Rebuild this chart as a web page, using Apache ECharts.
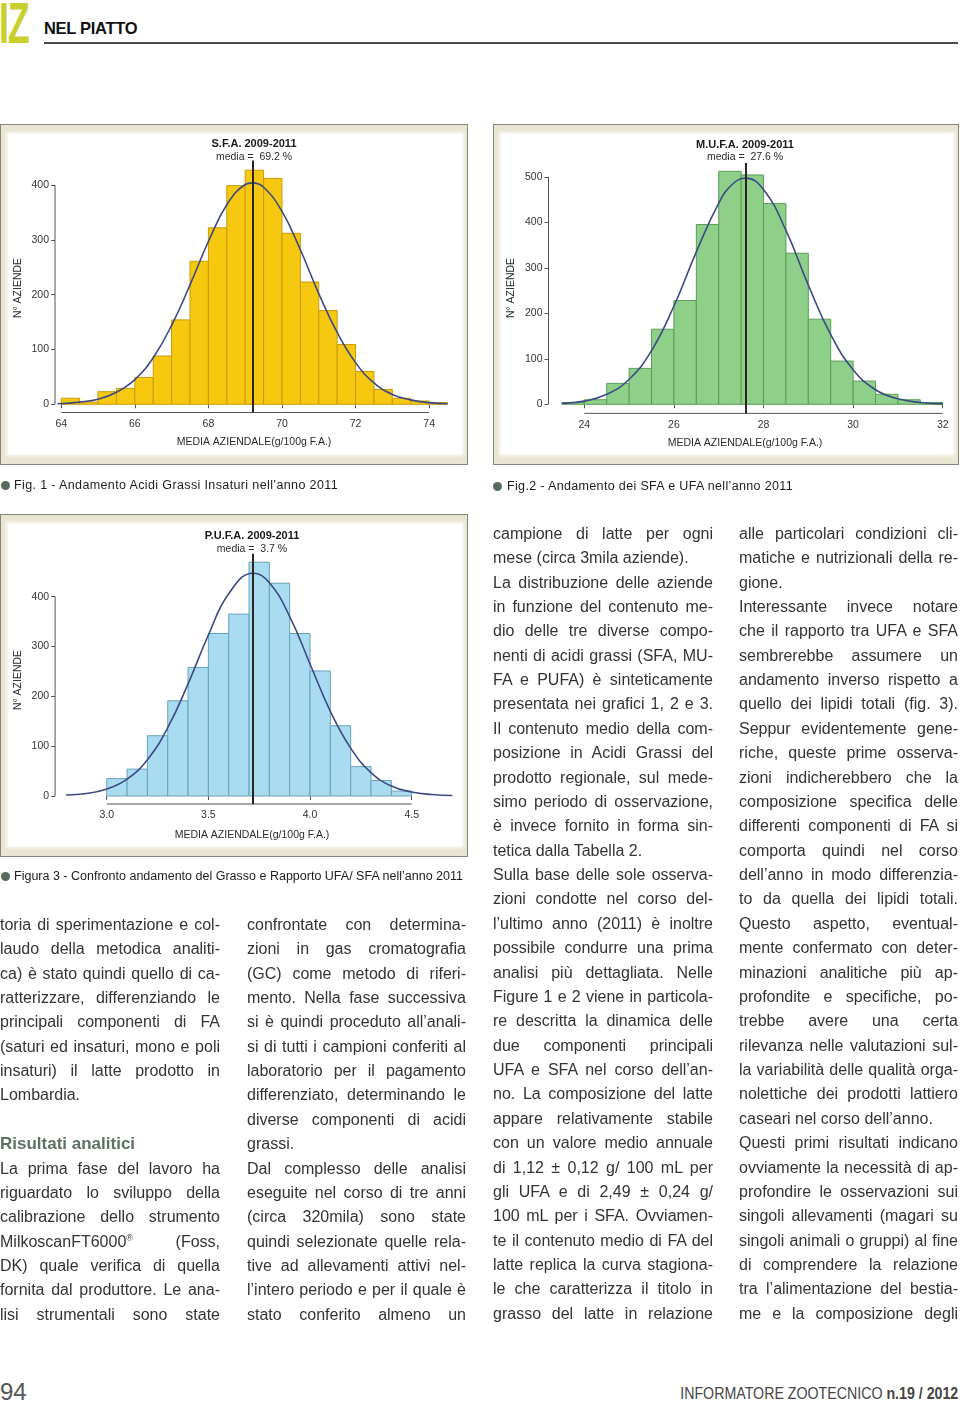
<!DOCTYPE html>
<html><head><meta charset="utf-8">
<script src="https://cdn.jsdelivr.net/npm/echarts@6/dist/echarts.min.js"></script>
<style>
html,body{margin:0;padding:0;background:#fff;}
body{width:960px;height:1403px;position:relative;overflow:hidden;font-family:"Liberation Sans",Arial,sans-serif;}
.frame{position:absolute;border:1.5px solid #85857b;background:#e9e5d3;box-sizing:border-box;z-index:1;}
.frame .in{position:absolute;left:7px;right:5px;top:9px;bottom:10px;background:#fff;box-shadow:0 0 3px 2px #fbfaf4;}
#chart{position:absolute;left:0;top:0;width:960px;height:1403px;z-index:2;}
.ln{position:absolute;white-space:nowrap;font-size:16px;line-height:24.375px;height:24.375px;color:#333;z-index:3;}
.ln span{display:inline-block;white-space:nowrap;}
.ln sup{font-size:9px;vertical-align:6px;line-height:0;}
.head{font-weight:bold;font-size:17px;color:#5d7264;}
.cap{position:absolute;white-space:nowrap;font-size:12.5px;color:#1c1c1c;z-index:3;line-height:16px;}
.cap span{display:inline-block;}
.dot{position:absolute;width:9px;height:9px;border-radius:50%;background:#566b5c;z-index:3;}
#logo{position:absolute;left:-1px;top:-6px;font-weight:bold;font-size:58px;color:#c9d02e;transform:scale(0.62,1);transform-origin:0 0;letter-spacing:-2px;line-height:58px;}
#rub{position:absolute;left:44px;top:19px;font-weight:bold;font-size:16.5px;color:#111;letter-spacing:-0.3px;}
#rule{position:absolute;left:44px;top:42px;width:914px;height:2px;background:#4a4a4a;}
#pg{position:absolute;left:0;top:1378px;font-size:24px;color:#555;line-height:28px;}
#foot{position:absolute;right:2px;top:1384px;font-size:16px;color:#444;white-space:nowrap;line-height:20px;transform-origin:100% 50%;}
</style>
</head><body>
<div id="logo">IZ</div>
<div id="rub">NEL PIATTO</div>
<div id="rule"></div>
<div class="frame" style="left:0;top:124px;width:468px;height:341px"><div class="in"></div></div>
<div class="frame" style="left:493px;top:124px;width:466px;height:341px"><div class="in"></div></div>
<div class="frame" style="left:0;top:514px;width:468px;height:343px"><div class="in"></div></div>
<div id="chart"></div>
<div id="pg">94</div>
<div id="foot"><span>INFORMATORE ZOOTECNICO <b>n.19 / 2012</b></span></div>
<script>
// ---------- DATA ----------
// S.F.A. histogram (Fig. 1)
const sfaEdges  = [64,64.5,65,65.5,66,66.5,67,67.5,68,68.5,69,69.5,70,70.5,71,71.5,72,72.5,73,73.5,74,74.5];
const sfaCounts = [11,4,23,29,49,88,154,261,322,399,427,412,312,223,171,109,60,27,11,6,3];
const sfaCurveX = [63.9,64.5,65,65.5,66,66.5,67,67.5,68,68.5,69,69.2,69.5,70,70.5,71,71.5,72,72.5,73,73.5,74,74.5];
const sfaCurveY = [1,4,9,22,45,85,144,218,297,364,401,404,396,352,282,202,131,76,39,18,8,3,1];
const sfaMean = 69.2;
const sfaXTicks = [64,66,68,70,72,74];
const sfaYTicks = [0,100,200,300,400];

// M.U.F.A. histogram (Fig. 2)
const mufaEdges  = [23.5,24,24.5,25,25.5,26,26.5,27,27.5,28,28.5,29,29.5,30,30.5,31,31.5,32];
const mufaCounts = [4,10,46,79,165,228,395,512,504,441,332,187,95,51,22,10,4];
const mufaCurveX = [23.5,24,24.5,25,25.5,26,26.5,27,27.3,27.6,28,28.5,29,29.5,30,30.5,31,31.5,32];
const mufaCurveY = [2,7,22,55,118,216,335,442,483,497,472,382,262,153,76,32,12,4,1];
const mufaMean = 27.6;
const mufaXTicks = [24,26,28,30,32];
const mufaYTicks = [0,100,200,300,400,500];

// P.U.F.A. histogram (Figura 3)
const pufaEdges  = [3.0,3.1,3.2,3.3,3.4,3.5,3.6,3.7,3.8,3.9,4.0,4.1,4.2,4.3,4.4,4.5];
const pufaCounts = [35,54,121,191,258,326,365,469,427,326,251,141,59,31,10];
const pufaCurveX = [2.8,2.9,3.0,3.1,3.2,3.3,3.4,3.5,3.6,3.72,3.8,3.9,4.0,4.1,4.2,4.3,4.4,4.5,4.6,4.7];
const pufaCurveY = [2,5,14,34,73,137,225,323,406,447,428,360,265,170,96,47,20,8,3,1];
const pufaMean = 3.72;
const pufaXTicks = [3.0,3.5,4.0,4.5];
const pufaYTicks = [0,100,200,300,400];

const titles = ["S.F.A. 2009-2011","M.U.F.A. 2009-2011","P.U.F.A. 2009-2011"];
const subtitles = ["media =  69.2 %","media =  27.6 %","media =  3.7 %"];
const yName = "N° AZIENDE";
const xName = "MEDIA AZIENDALE(g/100g F.A.)";

const captions = [
  "Fig. 1 - Andamento Acidi Grassi Insaturi nell’anno 2011",
  "Fig.2 - Andamento dei SFA e UFA nell’anno 2011",
  "Figura 3 - Confronto andamento del Grasso e Rapporto UFA/ SFA nell’anno 2011"
];

const col1 = [
"toria di sperimentazione e col-",
"laudo della metodica analiti-",
"ca) è stato quindi quello di ca-",
"ratterizzare, differenziando le",
"principali componenti di FA",
"(saturi ed insaturi, mono e poli",
"insaturi) il latte prodotto in",
"~Lombardia.",
"",
"#Risultati analitici",
"La prima fase del lavoro ha",
"riguardato lo sviluppo della",
"calibrazione dello strumento",
"MilkoscanFT6000<sup>®</sup> (Foss,",
"DK) quale verifica di quella",
"fornita dal produttore. Le ana-",
"lisi strumentali sono state"];
const col2 = [
"confrontate con determina-",
"zioni in gas cromatografia",
"(GC) come metodo di riferi-",
"mento. Nella fase successiva",
"si è quindi proceduto all’anali-",
"si di tutti i campioni conferiti al",
"laboratorio per il pagamento",
"differenziato, determinando le",
"diverse componenti di acidi",
"~grassi.",
"Dal complesso delle analisi",
"eseguite nel corso di tre anni",
"(circa 320mila) sono state",
"quindi selezionate quelle rela-",
"tive ad allevamenti attivi nel-",
"l’intero periodo e per il quale è",
"stato conferito almeno un"];
const col3 = [
"campione di latte per ogni",
"~mese (circa 3mila aziende).",
"La distribuzione delle aziende",
"in funzione del contenuto me-",
"dio delle tre diverse compo-",
"nenti di acidi grassi (SFA, MU-",
"FA e PUFA) è sinteticamente",
"presentata nei grafici 1, 2 e 3.",
"Il contenuto medio della com-",
"posizione in Acidi Grassi del",
"prodotto regionale, sul mede-",
"simo periodo di osservazione,",
"è invece fornito in forma sin-",
"~tetica dalla Tabella 2.",
"Sulla base delle sole osserva-",
"zioni condotte nel corso del-",
"l’ultimo anno (2011) è inoltre",
"possibile condurre una prima",
"analisi più dettagliata. Nelle",
"Figure 1 e 2 viene in particola-",
"re descritta la dinamica delle",
"due componenti principali",
"UFA e SFA nel corso dell’an-",
"no. La composizione del latte",
"appare relativamente stabile",
"con un valore medio annuale",
"di 1,12 ± 0,12 g/ 100 mL per",
"gli UFA e di 2,49 ± 0,24 g/",
"100 mL per i SFA. Ovviamen-",
"te il contenuto medio di FA del",
"latte replica la curva stagiona-",
"le che caratterizza il titolo in",
"grasso del latte in relazione"];
const col4 = [
"alle particolari condizioni cli-",
"matiche e nutrizionali della re-",
"~gione.",
"Interessante invece notare",
"che il rapporto tra UFA e SFA",
"sembrerebbe assumere un",
"andamento inverso rispetto a",
"quello dei lipidi totali (fig. 3).",
"Seppur evidentemente gene-",
"riche, queste prime osserva-",
"zioni indicherebbero che la",
"composizione specifica delle",
"differenti componenti di FA si",
"comporta quindi nel corso",
"dell’anno in modo differenzia-",
"to da quella dei lipidi totali.",
"Questo aspetto, eventual-",
"mente confermato con deter-",
"minazioni analitiche più ap-",
"profondite e specifiche, po-",
"trebbe avere una certa",
"rilevanza nelle valutazioni sul-",
"la variabilità delle qualità orga-",
"nolettiche dei prodotti lattiero",
"~caseari nel corso dell’anno.",
"Questi primi risultati indicano",
"ovviamente la necessità di ap-",
"profondire le osservazioni sui",
"singoli allevamenti (magari su",
"singoli animali o gruppi) al fine",
"di comprendere la relazione",
"tra l’alimentazione del bestia-",
"me e la composizione degli"];

// ---------- TEXT LAYOUT ----------
function fit(span, W, justify, lsOnly){
  span.style.wordSpacing='0px'; span.style.letterSpacing='0px';
  const w = span.getBoundingClientRect().width;
  let extra = W - w;
  if (!justify && extra >= 0) return;
  const txt = span.textContent;
  const spaces = (txt.match(/ /g)||[]).length;
  if (!lsOnly && spaces > 0){
    let ws = extra/spaces;
    if (ws < -1.6) ws = -1.6;
    span.style.wordSpacing = ws+'px';
    extra -= ws*spaces;
  }
  if (Math.abs(extra) > 0.3){
    span.style.letterSpacing = (extra/txt.length)+'px';
  }
}
function column(lines, x, firstCenter, W){
  const LH = 24.375;
  lines.forEach((s,i)=>{
    if (!s) return;
    const d = document.createElement('div');
    d.className='ln';
    d.style.left = x+'px';
    d.style.top = (firstCenter - LH/2 + i*LH)+'px';
    const sp = document.createElement('span');
    let justify = true;
    if (s[0]==='~'){ justify=false; s=s.slice(1); }
    if (s[0]==='#'){ justify=false; s=s.slice(1); sp.className='head'; }
    sp.innerHTML = s;
    d.appendChild(sp);
    document.body.appendChild(d);
    fit(sp, W, justify, false);
  });
}
column(col1, 0, 925, 220);
column(col2, 247, 925, 219);
column(col3, 493, 534, 220);
column(col4, 739, 534, 219);

function caption(text, dotX, textX, cy, W){
  const dot = document.createElement('div');
  dot.className='dot'; dot.style.left=dotX+'px'; dot.style.top=(cy-4.5)+'px';
  document.body.appendChild(dot);
  const d = document.createElement('div');
  d.className='cap'; d.style.left=textX+'px'; d.style.top=(cy-8)+'px';
  const sp = document.createElement('span'); sp.textContent=text; d.appendChild(sp);
  document.body.appendChild(d);
  fit(sp, W, true, true);
}
caption(captions[0], 1, 14, 485, 324);
caption(captions[1], 493, 507, 486, 286);
caption(captions[2], 1, 14, 876, 449);

(function(){
  const f = document.getElementById('foot');
  const w = f.getBoundingClientRect().width;
  f.style.transform = 'scaleX('+(278/w)+')';
})();

// ---------- CHARTS ----------
const specs = [
  {edges:sfaEdges, counts:sfaCounts, cx:sfaCurveX, cy:sfaCurveY, mean:sfaMean, xt:sfaXTicks, yt:sfaYTicks,
   fill:'#f7c810', stroke:'#c89b06', dec:0,
   grid:{left:55, top:160.4, width:396.2, height:252.1}, xmin:63.83, xmax:74.6, ymin:-15, ymax:445,
   tx:254, ty:144, sy:157, yx:18, yy:288, xy:442},
  {edges:mufaEdges, counts:mufaCounts, cx:mufaCurveX, cy:mufaCurveY, mean:mufaMean, xt:mufaXTicks, yt:mufaYTicks,
   fill:'#8ed089', stroke:'#5b9c5a', dec:0,
   grid:{left:548.5, top:163.1, width:398.7, height:250.3}, xmin:23.2, xmax:32.1, ymin:-20, ymax:530,
   tx:745, ty:145, sy:157.5, yx:510.7, yy:288, xy:443.5},
  {edges:pufaEdges, counts:pufaCounts, cx:pufaCurveX, cy:pufaCurveY, mean:pufaMean, xt:pufaXTicks, yt:pufaYTicks,
   fill:'#a9dcf0', stroke:'#6aa2bb', dec:1,
   grid:{left:55.1, top:553.8, width:401.3, height:250.2}, xmin:2.746, xmax:4.72, ymin:-16, ymax:486,
   tx:252, ty:536, sy:549.5, yx:18.3, yy:680, xy:835}
];

const chart = echarts.init(document.getElementById('chart'));
const option = {animation:false, grid:[], xAxis:[], yAxis:[], series:[]};
const LF = 'Liberation Sans, Arial, sans-serif';
specs.forEach((s,i)=>{
  option.grid.push(Object.assign({containLabel:false}, s.grid));
  option.xAxis.push({type:'value', gridIndex:i, min:s.xmin, max:s.xmax,
    axisLine:{show:false}, splitLine:{show:false},
    axisTick:{show:true, length:4, lineStyle:{color:'#555', width:1}, customValues:s.xt},
    axisLabel:{customValues:s.xt, color:'#333', fontSize:10.5, margin:6, fontFamily:LF,
      formatter:v=>v.toFixed(s.dec)}});
  option.yAxis.push({type:'value', gridIndex:i, min:s.ymin, max:s.ymax,
    axisLine:{show:false}, splitLine:{show:false},
    axisTick:{show:true, length:4, lineStyle:{color:'#555', width:1}, customValues:s.yt},
    axisLabel:{customValues:s.yt, color:'#333', fontSize:10.5, margin:6, fontFamily:LF}});
  const binData = s.counts.map((c,k)=>[s.edges[k], s.edges[k+1], c]);
  option.series.push({type:'custom', xAxisIndex:i, yAxisIndex:i, z:2, data:binData,
    encode:{x:[0,1], y:2},
    renderItem:(params, api)=>{
      const p0 = api.coord([api.value(0), api.value(2)]);
      const p1 = api.coord([api.value(1), 0]);
      return {type:'rect', shape:{x:p0[0], y:p0[1], width:p1[0]-p0[0], height:p1[1]-p0[1]},
        style:{fill:s.fill, stroke:s.stroke, lineWidth:1}};
    }});
  option.series.push({type:'line', xAxisIndex:i, yAxisIndex:i, z:3, smooth:0.45, symbol:'none',
    data:s.cx.map((x,k)=>[x, s.cy[k]]),
    lineStyle:{color:'#3c4a84', width:1.6},
    markLine:{silent:true, symbol:['none','none'], label:{show:false},
      lineStyle:{color:'#2a261e', width:2, type:'solid'}, data:[{xAxis:s.mean}]}});
});
chart.setOption(option);

const g = [];
specs.forEach((s,i)=>{
  const a = chart.convertToPixel({gridIndex:i}, [s.xt[0], s.ymin]);
  const b = chart.convertToPixel({gridIndex:i}, [s.xt[s.xt.length-1], s.ymin]);
  g.push({type:'line', silent:true, shape:{x1:a[0], y1:a[1], x2:b[0], y2:b[1]}, style:{stroke:'#555', lineWidth:1}});
  const c = chart.convertToPixel({gridIndex:i}, [s.xmin, s.yt[0]]);
  const d = chart.convertToPixel({gridIndex:i}, [s.xmin, s.yt[s.yt.length-1]]);
  g.push({type:'line', silent:true, shape:{x1:c[0], y1:c[1], x2:d[0], y2:d[1]}, style:{stroke:'#555', lineWidth:1}});
  g.push({type:'text', silent:true, x:s.tx, y:s.ty, style:{text:titles[i], fill:'#1a1a1a', font:'bold 11px "Liberation Sans", Arial, sans-serif', align:'center', verticalAlign:'middle'}});
  g.push({type:'text', silent:true, x:s.tx, y:s.sy, style:{text:subtitles[i], fill:'#2a2a2a', font:'10.5px "Liberation Sans", Arial, sans-serif', align:'center', verticalAlign:'middle'}});
  g.push({type:'text', silent:true, x:s.yx, y:s.yy, rotation:Math.PI/2, style:{text:yName, fill:'#2a2a2a', font:'10.5px "Liberation Sans", Arial, sans-serif', align:'center', verticalAlign:'middle'}});
  g.push({type:'text', silent:true, x:s.tx, y:s.xy, style:{text:xName, fill:'#2a2a2a', font:'10.5px "Liberation Sans", Arial, sans-serif', align:'center', verticalAlign:'middle'}});
});
chart.setOption({graphic:g});
</script>
</body></html>
